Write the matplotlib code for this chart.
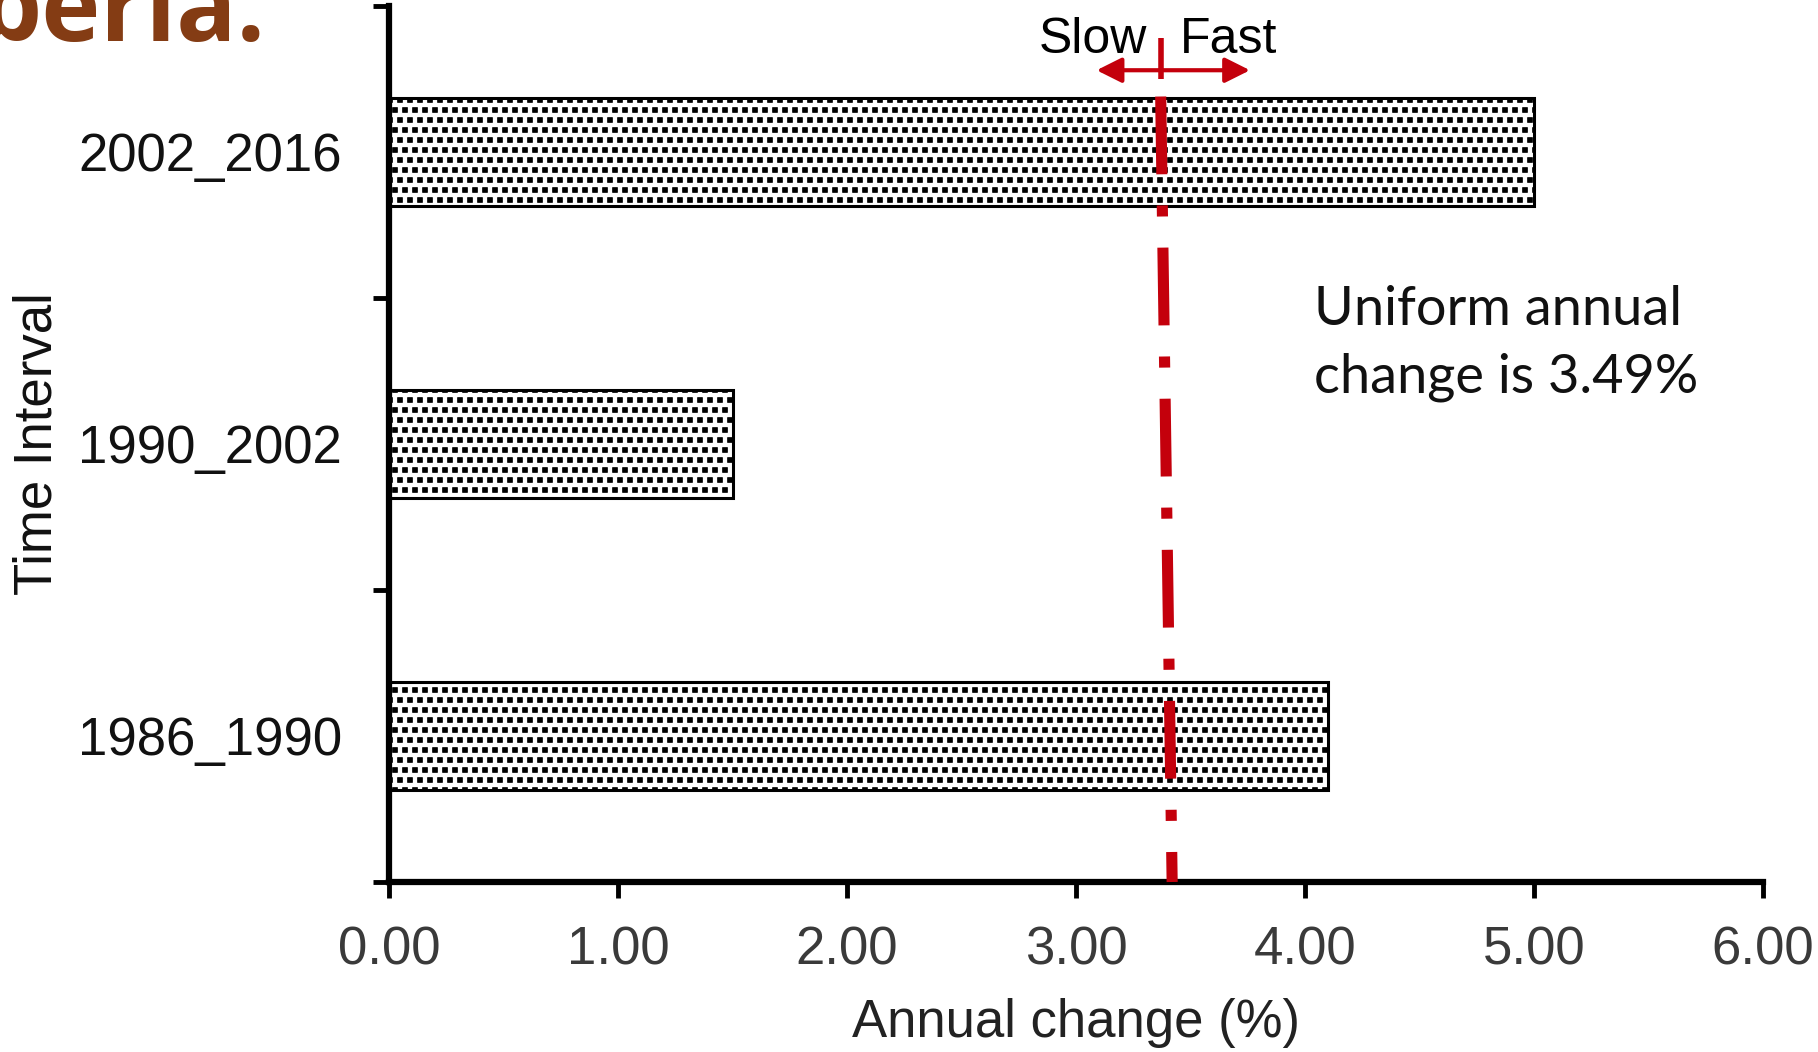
import matplotlib
matplotlib.use("Agg")
import matplotlib.pyplot as plt
import matplotlib.hatch as mhatch
from matplotlib.path import Path
from matplotlib.ticker import FixedLocator, FormatStrFormatter

# data
intervals = ["1986_1990", "1990_2002", "2002_2016"]
annual_change = [4.10, 1.50, 5.00]
uniform_line = [3.37, 3.42]   # red reference line (top x, bottom x), drawn slightly slanted
x_ticks = [0, 1, 2, 3, 4, 5, 6]

RED = "#c4000c"


# Excel-like dotted fill: small filled squares on an offset grid ('.' hatch)
class SquareDots(mhatch.Shapes):
    size = 0.45
    filled = True

    def __init__(self, hatch, density):
        self.num_rows = hatch.count(".") * 10   # keep even, the vertex count assumes it
        square = Path.unit_rectangle()
        self.shape_vertices = square.vertices - 0.5
        self.shape_codes = square.codes
        super().__init__(hatch, density)


for i, h in enumerate(mhatch._hatch_types):
    if h is mhatch.SmallFilledCircles:
        mhatch._hatch_types[i] = SquareDots

plt.rcParams["font.family"] = ["Liberation Sans", "DejaVu Sans"]
plt.rcParams["hatch.linewidth"] = 0.8

fig = plt.figure(figsize=(18.18, 10.52), dpi=100)
ax = fig.add_axes([0.214, 0.1616, 0.7557, 0.8327])

y_pos = list(range(len(intervals)))
ax.barh(y_pos, annual_change, height=0.37, color="white", edgecolor="black",
        linewidth=2.2, hatch=".", zorder=2)

# uniform annual change line
ax.plot(uniform_line, [2.19, -0.5], color=RED, linewidth=8, solid_capstyle="butt",
        dash_capstyle="butt", dashes=(7.0, 2.8, 1.0, 2.8), zorder=3, clip_on=False)

# slow / fast arrow
ax.annotate("", xy=(3.09, 2.28), xytext=(3.76, 2.28),
            arrowprops=dict(arrowstyle="<|-|>", color=RED, lw=3, mutation_scale=38,
                            shrinkA=0, shrinkB=0), zorder=4)
ax.plot([3.37, 3.37], [2.25, 2.39], color=RED, linewidth=4, solid_capstyle="butt", zorder=4)
ax.text(3.31, 2.34, "Slow", ha="right", va="baseline", fontsize=36, color="black")
ax.text(3.455, 2.34, "Fast", ha="left", va="baseline", fontsize=36, color="black")

ax.text(4.04, 1.408, "Uniform annual", ha="left", va="baseline", fontsize=39,
        family=["Lato", "DejaVu Sans"], color="#111111")
ax.text(4.04, 1.175, "change is 3.49%", ha="left", va="baseline", fontsize=39,
        family=["Lato", "DejaVu Sans"], color="#111111")

ax.set_xlim(0, 6)
ax.set_ylim(-0.5, 2.5)

ax.set_xticks(x_ticks)
ax.xaxis.set_major_formatter(FormatStrFormatter("%.2f"))
ax.tick_params(axis="x", direction="out", length=11.5, width=3.5, pad=20,
               labelsize=38, labelcolor="#3a3a3a", color="black")

ax.set_yticks(y_pos)
ax.set_yticklabels(intervals)
ax.yaxis.set_minor_locator(FixedLocator([-0.5, 0.5, 1.5, 2.5]))
ax.tick_params(axis="y", which="major", length=0, pad=34, labelsize=38, labelcolor="#111111")
ax.tick_params(axis="y", which="minor", direction="out", length=11.5, width=3.5, color="black")

for side in ["top", "right"]:
    ax.spines[side].set_visible(False)
for side in ["left", "bottom"]:
    ax.spines[side].set_linewidth(4.5)
    ax.spines[side].set_color("black")

ax.set_xlabel("Annual change (%)", fontsize=38, color="#222222")
ax.xaxis.set_label_coords(0.5, -0.132)
ax.set_ylabel("Time Interval", fontsize=38, color="#111111")
ax.yaxis.set_label_coords(-0.238, 0.5)

# cut-off slide title in the corner
fig.text(-22 / 1818, 0.961, "beria.", ha="left", va="baseline", fontsize=72,
         fontweight="bold", family=["Open Sans", "DejaVu Sans"], color="#843c14")

fig.savefig("out.png", dpi=100)
